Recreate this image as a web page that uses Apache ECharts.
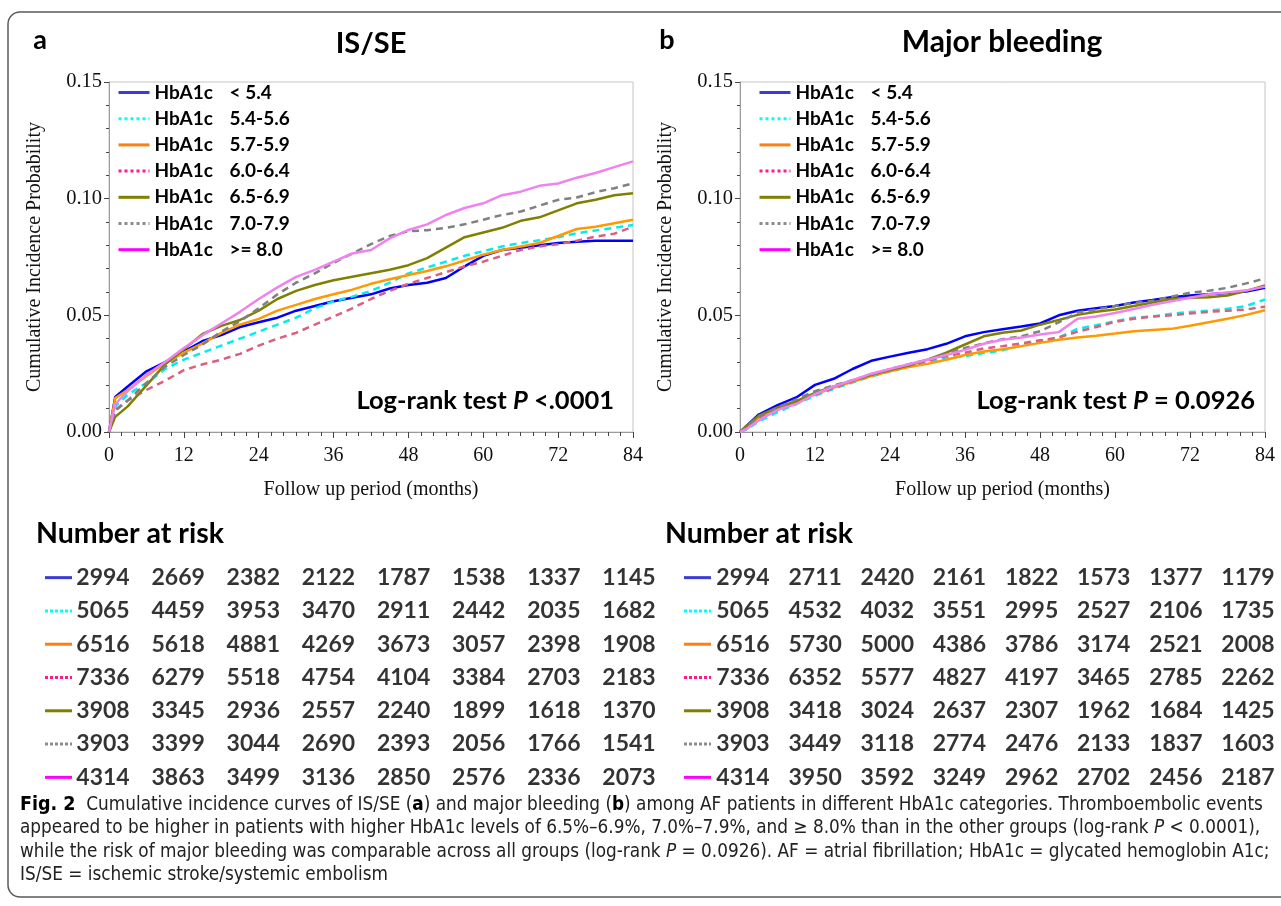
<!DOCTYPE html>
<html>
<head>
<meta charset="utf-8">
<script src="https://cdn.jsdelivr.net/npm/echarts@6/dist/echarts.min.js"></script>
<style>
  html, body { margin: 0; padding: 0; background: #fff; }
  #main { width: 1281px; height: 906px; }
</style>
</head>
<body>
<div id="main"></div>
<script>
const months = [0, 1, 3, 6, 9, 12, 15, 18, 21, 24, 27, 30, 33, 36, 39, 42, 45, 48, 51, 54, 57, 60, 63, 66, 69, 72, 75, 78, 81, 84];
const groups = ['< 5.4', '5.4-5.6', '5.7-5.9', '6.0-6.4', '6.5-6.9', '7.0-7.9', '>= 8.0'];
const xTicks = [0, 12, 24, 36, 48, 60, 72, 84];

// IS/SE cumulative incidence
const isLt54   = [0, 0.015, 0.0195, 0.026, 0.030, 0.0345, 0.039, 0.0415, 0.045, 0.047, 0.049, 0.052, 0.054, 0.056, 0.0575, 0.059, 0.0615, 0.063, 0.064, 0.066, 0.071, 0.0755, 0.078, 0.079, 0.080, 0.081, 0.0815, 0.082, 0.082, 0.082];
const is5456   = [0, 0.011, 0.016, 0.021, 0.027, 0.031, 0.034, 0.037, 0.040, 0.043, 0.046, 0.049, 0.053, 0.056, 0.058, 0.0605, 0.064, 0.068, 0.0705, 0.073, 0.0755, 0.0775, 0.0795, 0.081, 0.0822, 0.0835, 0.0852, 0.0864, 0.0875, 0.0887];
const is5759   = [0, 0.0145, 0.018, 0.024, 0.0295, 0.034, 0.038, 0.0425, 0.046, 0.0485, 0.052, 0.0545, 0.057, 0.059, 0.061, 0.0635, 0.0655, 0.0673, 0.069, 0.071, 0.0735, 0.076, 0.078, 0.0795, 0.081, 0.084, 0.087, 0.088, 0.0895, 0.091];
const is6064   = [0, 0.0095, 0.0135, 0.018, 0.022, 0.0265, 0.029, 0.031, 0.0335, 0.037, 0.040, 0.0425, 0.046, 0.0495, 0.053, 0.057, 0.0605, 0.0635, 0.066, 0.0685, 0.071, 0.073, 0.0755, 0.078, 0.0795, 0.0805, 0.082, 0.0837, 0.085, 0.088];
const is6569   = [0, 0.0065, 0.011, 0.020, 0.029, 0.0355, 0.042, 0.0455, 0.048, 0.052, 0.057, 0.0605, 0.063, 0.065, 0.0665, 0.068, 0.0695, 0.0715, 0.0745, 0.079, 0.0835, 0.0855, 0.0875, 0.0905, 0.092, 0.095, 0.098, 0.0995, 0.1015, 0.1023];
const is7079   = [0, 0.009, 0.0135, 0.021, 0.028, 0.033, 0.0375, 0.043, 0.0475, 0.053, 0.059, 0.064, 0.068, 0.0725, 0.0765, 0.0805, 0.084, 0.086, 0.0865, 0.0875, 0.089, 0.091, 0.093, 0.0945, 0.097, 0.0995, 0.1005, 0.1028, 0.1045, 0.1066];
const isGe80   = [0, 0.012, 0.0175, 0.0245, 0.030, 0.036, 0.0415, 0.0465, 0.0515, 0.057, 0.062, 0.0665, 0.0695, 0.073, 0.0765, 0.078, 0.083, 0.0866, 0.089, 0.093, 0.096, 0.098, 0.1015, 0.103, 0.1055, 0.1065, 0.109, 0.111, 0.1135, 0.116];

// major bleeding cumulative incidence
const mbLt54   = [0, 0.0025, 0.0075, 0.0115, 0.0148, 0.0202, 0.0228, 0.027, 0.0305, 0.0323, 0.034, 0.0355, 0.0378, 0.041, 0.0428, 0.044, 0.0452, 0.0465, 0.050, 0.052, 0.053, 0.054, 0.0555, 0.0566, 0.0578, 0.0585, 0.059, 0.0596, 0.0602, 0.0618];
const mb5456   = [0, 0.001, 0.0045, 0.0085, 0.012, 0.0155, 0.0185, 0.0212, 0.0238, 0.026, 0.028, 0.0298, 0.0315, 0.0325, 0.0338, 0.035, 0.037, 0.039, 0.0405, 0.0442, 0.0458, 0.0475, 0.049, 0.0495, 0.0507, 0.0514, 0.052, 0.0528, 0.054, 0.0568];
const mb5759   = [0, 0.002, 0.006, 0.0095, 0.0128, 0.0162, 0.019, 0.0215, 0.024, 0.026, 0.0278, 0.0292, 0.031, 0.033, 0.0345, 0.0355, 0.0368, 0.0382, 0.0395, 0.0405, 0.0413, 0.0422, 0.0432, 0.0437, 0.0442, 0.0455, 0.047, 0.0485, 0.0502, 0.0522];
const mb6064   = [0, 0.0015, 0.0055, 0.0095, 0.0128, 0.016, 0.019, 0.0218, 0.0245, 0.0266, 0.0285, 0.0305, 0.0325, 0.034, 0.0358, 0.0368, 0.038, 0.0393, 0.0405, 0.043, 0.045, 0.0472, 0.0485, 0.0495, 0.050, 0.0508, 0.0515, 0.052, 0.0525, 0.0537];
const mb6569   = [0, 0.0025, 0.007, 0.0105, 0.0132, 0.0168, 0.0195, 0.022, 0.0245, 0.0266, 0.0285, 0.031, 0.034, 0.0375, 0.041, 0.0425, 0.0435, 0.046, 0.048, 0.0502, 0.0515, 0.0525, 0.054, 0.0555, 0.057, 0.0575, 0.0578, 0.0585, 0.0605, 0.0628];
const mb7079   = [0, 0.002, 0.0065, 0.0105, 0.014, 0.0175, 0.020, 0.0222, 0.0245, 0.027, 0.029, 0.031, 0.0335, 0.036, 0.038, 0.0398, 0.041, 0.0432, 0.047, 0.0512, 0.0525, 0.054, 0.0553, 0.0562, 0.058, 0.0597, 0.0605, 0.0618, 0.0637, 0.0658];
const mbGe80   = [0, 0.0012, 0.005, 0.0095, 0.012, 0.0162, 0.0195, 0.0222, 0.025, 0.027, 0.029, 0.031, 0.033, 0.0352, 0.0378, 0.0395, 0.0405, 0.0418, 0.0428, 0.0485, 0.0495, 0.051, 0.0527, 0.0545, 0.056, 0.0575, 0.059, 0.0598, 0.0607, 0.0623];

// number at risk, IS/SE
const riskA_lt54 = [2994, 2669, 2382, 2122, 1787, 1538, 1337, 1145];
const riskA_5456 = [5065, 4459, 3953, 3470, 2911, 2442, 2035, 1682];
const riskA_5759 = [6516, 5618, 4881, 4269, 3673, 3057, 2398, 1908];
const riskA_6064 = [7336, 6279, 5518, 4754, 4104, 3384, 2703, 2183];
const riskA_6569 = [3908, 3345, 2936, 2557, 2240, 1899, 1618, 1370];
const riskA_7079 = [3903, 3399, 3044, 2690, 2393, 2056, 1766, 1541];
const riskA_ge80 = [4314, 3863, 3499, 3136, 2850, 2576, 2336, 2073];

// number at risk, major bleeding
const riskB_lt54 = [2994, 2711, 2420, 2161, 1822, 1573, 1377, 1179];
const riskB_5456 = [5065, 4532, 4032, 3551, 2995, 2527, 2106, 1735];
const riskB_5759 = [6516, 5730, 5000, 4386, 3786, 3174, 2521, 2008];
const riskB_6064 = [7336, 6352, 5577, 4827, 4197, 3465, 2785, 2262];
const riskB_6569 = [3908, 3418, 3024, 2637, 2307, 1962, 1684, 1425];
const riskB_7079 = [3903, 3449, 3118, 2774, 2476, 2133, 1837, 1603];
const riskB_ge80 = [4314, 3950, 3592, 3249, 2962, 2702, 2456, 2187];

const curvesA = [isLt54, is5456, is5759, is6064, is6569, is7079, isGe80];
const curvesB = [mbLt54, mb5456, mb5759, mb6064, mb6569, mb7079, mbGe80];
const riskA = [riskA_lt54, riskA_5456, riskA_5759, riskA_6064, riskA_6569, riskA_7079, riskA_ge80];
const riskB = [riskB_lt54, riskB_5456, riskB_5759, riskB_6064, riskB_6569, riskB_7079, riskB_ge80];

// styling
const curveColors = ['#0000ff', '#00eeee', '#ff9900', '#d9607f', '#808000', '#808080', '#ee82ee'];
const curveTypes = ['solid', [7, 5], 'solid', [7, 5], 'solid', [7, 5], 'solid'];
const keyColors = ['#3b3bd6', '#00ffff', '#ff8010', '#ff1a8c', '#808000', '#8c8c8c', '#ff00ff'];
const keyTypes = ['solid', 'dotted', 'solid', 'dotted', 'solid', 'dotted', 'solid'];

const SANS = 'Lato, "Open Sans", sans-serif';
const SERIF = '"Liberation Serif", "DejaVu Serif", serif';
const CAP = '"Liberation Sans Narrow", "DejaVu Sans Condensed", Roboto, sans-serif';

const myChart = echarts.init(document.getElementById('main'));

function plotX(gi) {
  return {
    type: 'value', gridIndex: gi, min: 0, max: 84, interval: 12,
    name: 'Follow up period (months)', nameLocation: 'middle', nameGap: 48,
    nameTextStyle: { fontFamily: SERIF, fontSize: 20, color: '#111' },
    axisLine: { show: true, lineStyle: { color: '#9a9a9a' } },
    axisTick: { show: true, length: 6, lineStyle: { color: '#444' } },
    minorTick: { show: true, splitNumber: 6, length: 4, lineStyle: { color: '#444' } },
    splitLine: { show: false },
    axisLabel: { fontFamily: SERIF, fontSize: 20, color: '#111', margin: 14 }
  };
}
function plotY(gi) {
  return {
    type: 'value', gridIndex: gi, min: 0, max: 0.15, interval: 0.05,
    name: 'Cumulative Incidence Probability', nameLocation: 'middle', nameGap: 64,
    nameTextStyle: { fontFamily: SERIF, fontSize: 20, color: '#111' },
    axisLine: { show: true, lineStyle: { color: '#9a9a9a' } },
    axisTick: { show: true, length: 5, lineStyle: { color: '#444' } },
    minorTick: { show: true, splitNumber: 5, length: 3, lineStyle: { color: '#444' } },
    splitLine: { show: false },
    axisLabel: { fontFamily: SERIF, fontSize: 20.5, color: '#111', margin: 7,
      formatter: function (v) { return v.toFixed(2); } }
  };
}
function riskX(gi) {
  return { type: 'value', gridIndex: gi, min: 0, max: 84, show: false };
}
function riskY(gi) {
  return { type: 'category', gridIndex: gi, data: groups, inverse: true, show: false };
}

function legendFor(left) {
  return {
    orient: 'vertical', left: left, top: 83, padding: 0,
    itemWidth: 31, itemHeight: 14, itemGap: 7.2,
    selectedMode: false,
    data: groups.map(function (g, i) {
      // the line icon only, no symbol in its middle
      return { name: g, itemStyle: { color: keyColors[i], opacity: 0, borderWidth: 0 },
        lineStyle: { color: keyColors[i], type: keyTypes[i], width: 3 } };
    }),
    formatter: function (name) { return '{n|HbA1c}{v|' + name + '}'; },
    textStyle: {
      rich: {
        n: { width: 75, fontFamily: SANS, fontWeight: 'bold', fontSize: 19, color: '#000', lineHeight: 20 },
        v: { fontFamily: SANS, fontWeight: 'bold', fontSize: 19, color: '#000', lineHeight: 20 }
      }
    }
  };
}

const series = [];
[curvesA, curvesB].forEach(function (set, p) {
  set.forEach(function (vals, i) {
    series.push({
      type: 'line', name: groups[i], xAxisIndex: p, yAxisIndex: p,
      symbol: 'none', animation: false,
      lineStyle: { color: curveColors[i], width: 2.5, type: curveTypes[i] },
      itemStyle: { color: curveColors[i] },
      data: months.map(function (m, k) { return [m, vals[k]]; })
    });
  });
});
[riskA, riskB].forEach(function (tbl, p) {
  const cells = [];
  tbl.forEach(function (row, i) {
    row.forEach(function (n, j) { cells.push([xTicks[j], i, n]); });
  });
  series.push({
    type: 'scatter', xAxisIndex: 2 + p, yAxisIndex: 2 + p, animation: false,
    symbolSize: 1, itemStyle: { color: 'rgba(0,0,0,0)' }, silent: true,
    label: { show: true, position: 'inside', formatter: function (d) { return d.value[2]; },
      fontFamily: SANS, fontWeight: 'bold', fontSize: 23, color: '#000' },
    data: cells
  });
});

const option = {
  backgroundColor: '#fff',
  animation: false,
  grid: [
    { left: 109, top: 82, width: 524, height: 350, show: true, borderColor: '#c4c4c4', borderWidth: 1 },
    { left: 740, top: 82, width: 525, height: 350, show: true, borderColor: '#c4c4c4', borderWidth: 1 },
    { left: 103, top: 561, width: 526, height: 233 },
    { left: 743, top: 561, width: 505, height: 233 }
  ],
  xAxis: [plotX(0), plotX(1), riskX(2), riskX(3)],
  yAxis: [plotY(0), plotY(1), riskY(2), riskY(3)],
  legend: [legendFor(117), legendFor(758)],
  series: series
};
myChart.setOption(option);

// texts, frame and the line keys in front of the risk rows
const bold = function (size) { return 'bold ' + size + 'px ' + SANS; };
const gfx = [
  { type: 'rect', shape: { x: 8, y: 12, width: 1300, height: 885, r: 12 }, z: -1,
    style: { fill: 'none', stroke: '#5a5a5a', lineWidth: 1.5 } },
  { type: 'text', style: { text: 'a', x: 40, y: 40, font: bold(27), fill: '#000', textAlign: 'center', textVerticalAlign: 'middle' } },
  { type: 'text', style: { text: 'b', x: 667, y: 40, font: bold(27), fill: '#000', textAlign: 'center', textVerticalAlign: 'middle' } },
  { type: 'text', style: { text: 'IS/SE', x: 371, y: 44, font: bold(29), fill: '#000', textAlign: 'center', textVerticalAlign: 'middle' } },
  { type: 'text', style: { text: 'Major bleeding', x: 1002, y: 42, font: bold(30), fill: '#000', textAlign: 'center', textVerticalAlign: 'middle' } },
  { type: 'text', style: { text: 'Number at risk', x: 36, y: 534, font: bold(28.5), fill: '#000', textVerticalAlign: 'middle' } },
  { type: 'text', style: { text: 'Number at risk', x: 665, y: 534, font: bold(28.5), fill: '#000', textVerticalAlign: 'middle' } },
  { type: 'text', style: { text: '{b|Log-rank test }{i|P}{b| <.0001}', x: 614, y: 401, textAlign: 'right', textVerticalAlign: 'middle',
      rich: { b: { font: bold(25.5), fill: '#000' }, i: { font: 'italic bold 25.5px ' + SANS, fill: '#000' } } } },
  { type: 'text', style: { text: '{b|Log-rank test }{i|P}{b| = 0.0926}', x: 1255, y: 401, textAlign: 'right', textVerticalAlign: 'middle',
      rich: { b: { font: bold(25.5), fill: '#000' }, i: { font: 'italic bold 25.5px ' + SANS, fill: '#000' } } } }
];

const capLines = [
  '{f|Fig. 2}  Cumulative incidence curves of IS/SE ({k|a}) and major bleeding ({k|b}) among AF patients in different HbA1c categories. Thromboembolic events',
  'appeared to be higher in patients with higher HbA1c levels of 6.5%\u20136.9%, 7.0%\u20137.9%, and \u2265 8.0% than in the other groups (log-rank {i|P} < 0.0001),',
  'while the risk of major bleeding was comparable across all groups (log-rank {i|P} = 0.0926). AF = atrial fibrillation; HbA1c = glycated hemoglobin A1c;',
  'IS/SE = ischemic stroke/systemic embolism'
];
capLines.forEach(function (t, i) {
  gfx.push({ type: 'text', style: { text: t, x: 20, y: 805 + i * 23.5, textVerticalAlign: 'middle',
    font: '18.8px ' + CAP, fill: '#222',
    rich: { f: { font: 'bold 19.5px ' + CAP, fill: '#000' }, k: { font: 'bold 18.8px ' + CAP, fill: '#000' },
      i: { font: 'italic 18.8px ' + CAP, fill: '#222' } } } });
});

[0, 1].forEach(function (p) {
  groups.forEach(function (g, i) {
    const pt = myChart.convertToPixel({ gridIndex: 2 + p }, [0, i]);
    const x0 = p === 0 ? pt[0] - 58 : pt[0] - 59;
    gfx.push({ type: 'line', shape: { x1: x0, y1: pt[1], x2: x0 + 27, y2: pt[1] },
      style: { stroke: keyColors[i], lineWidth: 3, lineDash: keyTypes[i] === 'dotted' ? [3, 2] : null } });
  });
});

myChart.setOption({ graphic: gfx });
</script>
</body>
</html>
